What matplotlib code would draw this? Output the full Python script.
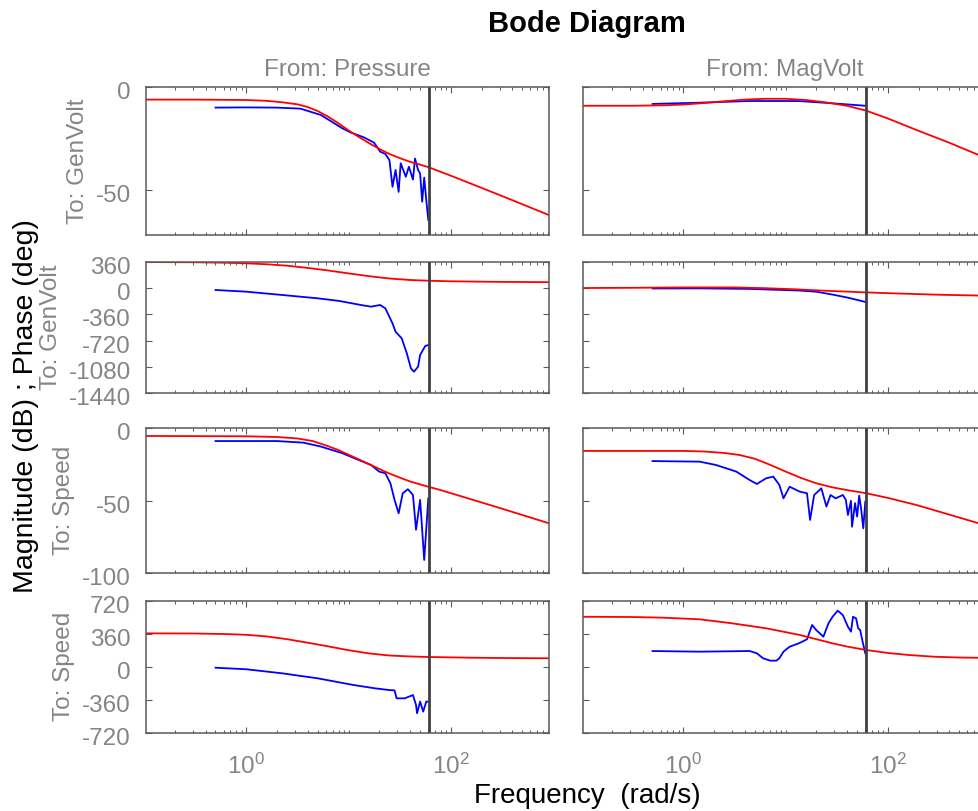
import numpy as np
import matplotlib
matplotlib.use("Agg")
import matplotlib.pyplot as plt
import matplotlib.transforms as mtransforms
from matplotlib.ticker import FixedLocator, LogLocator, NullFormatter, LogFormatterMathtext

plt.rcParams['font.family'] = ['Liberation Sans', 'DejaVu Sans']
plt.rcParams['axes.unicode_minus'] = False
plt.rcParams['mathtext.fontset'] = 'custom'
plt.rcParams['mathtext.rm'] = 'Liberation Sans'

# ---------------- data (log10 of frequency in rad/s, values in dB / deg) ----------------
inputs = ["Pressure", "MagVolt"]
outputs = ["GenVolt", "Speed"]
nyquist_w = 61.0

# Pressure -> GenVolt, magnitude
m_pg_lw = [-0.98, -0.5, 0.0, 0.2, 0.35, 0.5, 0.6, 0.7, 0.8, 0.9, 1.0, 1.1, 1.2, 1.3, 1.4, 1.5, 1.6, 1.7,
           1.78, 1.9, 2.0, 2.3, 2.6, 2.96]
m_pg_db = [-6.0, -6.0, -6.2, -6.6, -7.3, -8.3, -9.6, -11.6, -14.3, -17.5, -21.0, -24.2, -27.2, -30.0,
           -32.5, -34.5, -36.3, -37.7, -38.9, -41.2, -43.1, -49.0, -55.0, -62.3]
d_pg_lw = [-0.30, 0.0, 0.3, 0.53, 0.73, 0.94, 1.02, 1.15, 1.25, 1.31, 1.36, 1.40, 1.43, 1.46, 1.49, 1.51,
           1.56, 1.59, 1.63, 1.65, 1.68, 1.70, 1.72, 1.74, 1.76, 1.78]
d_pg_db = [-9.9, -9.8, -9.9, -10.4, -13.5, -20.0, -22.0, -24.4, -27.0, -31.4, -32.5, -35.5, -48.5, -40.3,
           -51.0, -37.0, -43.6, -38.7, -45.0, -34.7, -40.3, -42.0, -55.8, -44.0, -55.0, -64.7]

# Pressure -> GenVolt, phase
p_pg_lw = [-0.98, -0.5, -0.2, 0.0, 0.2, 0.4, 0.6, 0.8, 1.0, 1.2, 1.4, 1.6, 1.78, 2.0, 2.4, 2.96]
p_pg_deg = [355, 352, 346, 338, 325, 305, 275, 240, 200, 162, 130, 110, 100, 92, 85, 80]
dp_pg_lw = [-0.30, 0.0, 0.35, 0.70, 0.91, 1.12, 1.22, 1.31, 1.36, 1.43, 1.46, 1.52, 1.57, 1.61, 1.64,
            1.68, 1.70, 1.75, 1.78]
dp_pg_deg = [-27, -50, -95, -141, -177, -232, -255, -232, -278, -483, -598, -688, -893, -1098, -1145,
             -1076, -916, -793, -780]

# Pressure -> Speed, magnitude
m_ps_lw = [-0.98, 0.0, 0.3, 0.5, 0.65, 0.8, 0.9, 1.0, 1.1, 1.2, 1.3, 1.4, 1.5, 1.6, 1.7, 1.78, 1.9,
           2.13, 2.48, 2.96]
m_ps_db = [-5.3, -5.5, -6.0, -7.0, -8.8, -12.3, -15.0, -18.2, -21.4, -24.7, -28.0, -31.2, -34.0, -36.6,
           -38.7, -40.3, -42.6, -47.5, -55.0, -65.5]
d_ps_lw = [-0.30, 0.3, 0.56, 0.73, 0.94, 1.08, 1.22, 1.30, 1.36, 1.41, 1.45, 1.49, 1.53, 1.58, 1.63,
           1.66, 1.70, 1.74, 1.78]
d_ps_db = [-8.8, -8.8, -9.9, -12.6, -17.2, -21.3, -25.3, -29.9, -31.0, -38.0, -49.4, -58.6, -44.8, -42.0,
           -46.0, -70.0, -49.4, -90.8, -48.3]

# Pressure -> Speed, phase
p_ps_lw = [-0.98, -0.5, -0.2, 0.0, 0.2, 0.4, 0.6, 0.8, 1.0, 1.2, 1.4, 1.6, 1.78, 2.2, 2.6, 2.96]
p_ps_deg = [364, 362, 356, 348, 330, 300, 262, 222, 180, 145, 122, 112, 106, 98, 94, 92]
dp_ps_lw = [-0.30, 0.0, 0.35, 0.70, 1.05, 1.26, 1.40, 1.45, 1.47, 1.55, 1.63, 1.66, 1.67, 1.70, 1.73,
            1.76, 1.78]
dp_ps_deg = [-11, -28, -72, -127, -200, -236, -255, -258, -345, -345, -309, -418, -508, -381, -490,
             -381, -381]

# MagVolt -> GenVolt, magnitude
m_mg_lw = [-0.99, -0.5, -0.2, 0.0, 0.2, 0.4, 0.6, 0.8, 1.0, 1.2, 1.4, 1.6, 1.79, 2.0, 2.28, 2.6, 2.96]
m_mg_db = [-9.0, -9.0, -8.8, -8.4, -7.7, -6.8, -6.0, -5.6, -5.6, -6.2, -7.4, -9.0, -11.4, -15.2, -20.8,
           -27.0, -34.5]
d_mg_lw = [-0.30, 0.16, 0.64, 1.13, 1.46, 1.78]
d_mg_db = [-8.1, -7.5, -6.7, -6.7, -7.8, -9.0]

# MagVolt -> GenVolt, phase
p_mg_lw = [-0.99, -0.5, 0.0, 0.5, 0.8, 1.1, 1.4, 1.79, 2.1, 2.5, 2.96]
p_mg_deg = [0, 3, 8, 8, -2, -18, -38, -60, -75, -92, -105]
dp_mg_lw = [-0.30, 0.16, 0.65, 1.14, 1.30, 1.46, 1.62, 1.78]
dp_mg_deg = [-6, -5, -12, -35, -50, -90, -135, -190]

# MagVolt -> Speed, magnitude
m_ms_lw = [-0.99, 0.0, 0.2, 0.4, 0.55, 0.7, 0.85, 1.0, 1.15, 1.3, 1.45, 1.6, 1.79, 2.0, 2.28, 2.6, 2.96]
m_ms_db = [-15.6, -15.6, -16.0, -17.0, -18.4, -21.0, -25.2, -29.8, -34.2, -37.9, -40.6, -42.6, -44.8,
           -48.0, -52.9, -59.5, -67.0]
d_ms_lw = [-0.30, 0.16, 0.32, 0.52, 0.65, 0.72, 0.81, 0.88, 0.94, 0.98, 1.04, 1.14, 1.21, 1.24, 1.28,
           1.35, 1.40, 1.44, 1.49, 1.56, 1.59, 1.61, 1.64, 1.65, 1.68, 1.70, 1.72, 1.74, 1.76, 1.78]
d_ms_db = [-22.6, -23.0, -25.3, -29.9, -35.7, -38.4, -34.5, -33.3, -39.1, -48.3, -40.3, -43.7, -44.8,
           -63.2, -46.0, -41.4, -54.0, -46.0, -48.3, -46.0, -49.4, -59.8, -50.0, -67.9, -51.6, -60.9,
           -46.4, -56.0, -69.0, -50.6]

# MagVolt -> Speed, phase
p_ms_lw = [-0.99, -0.5, -0.2, 0.16, 0.48, 0.81, 1.14, 1.46, 1.6, 1.79, 2.0, 2.2, 2.45, 2.7, 2.96]
p_ms_deg = [545, 542, 535, 517, 473, 419, 346, 255, 220, 182, 150, 128, 109, 100, 96]
dp_ms_lw = [-0.30, 0.16, 0.65, 0.72, 0.78, 0.85, 0.91, 0.94, 0.98, 1.04, 1.13, 1.21, 1.26, 1.30, 1.37,
            1.42, 1.46, 1.51, 1.56, 1.61, 1.64, 1.66, 1.69, 1.71, 1.73, 1.75, 1.78]
dp_ms_deg = [171, 164, 171, 146, 92, 66, 66, 92, 164, 218, 255, 299, 455, 400, 327, 473, 545, 611, 564,
             436, 382, 545, 527, 419, 400, 291, 146]

row_ticks = [[-50, 0], [-1440, -1080, -720, -360, 0, 360], [-100, -50, 0], [-720, -360, 0, 360, 720]]
row_ylims = [(-72, 0), (-1440, 360), (-100, 0), (-720, 720)]
xlim_log = (-0.98, 2.96)
x_major = [1, 100]

panels = {
    (0, 0): (m_pg_lw, m_pg_db, d_pg_lw, d_pg_db),
    (1, 0): (p_pg_lw, p_pg_deg, dp_pg_lw, dp_pg_deg),
    (2, 0): (m_ps_lw, m_ps_db, d_ps_lw, d_ps_db),
    (3, 0): (p_ps_lw, p_ps_deg, dp_ps_lw, dp_ps_deg),
    (0, 1): (m_mg_lw, m_mg_db, d_mg_lw, d_mg_db),
    (1, 1): (p_mg_lw, p_mg_deg, dp_mg_lw, dp_mg_deg),
    (2, 1): (m_ms_lw, m_ms_db, d_ms_lw, d_ms_db),
    (3, 1): (p_ms_lw, p_ms_deg, dp_ms_lw, dp_ms_deg),
}

# ---------------- layout ----------------
W, H = 979, 811
fig = plt.figure(figsize=(W / 100, H / 100), dpi=100)
col_x = [(146, 549), (583, 986)]
row_y = [(87.3, 235.0), (261.7, 393.3), (428.3, 573.3), (600.7, 732.7)]

gray = '#858585'
edge = '#5a5a5a'
fs_tick = 17.5
ylab_shift = mtransforms.ScaledTranslation(0, -3.5 / 100, fig.dpi_scale_trans)

for (r, c), (mlw, mv, dlw, dv) in panels.items():
    x0, x1 = col_x[c]
    t, b = row_y[r]
    ax = fig.add_axes([x0 / W, 1 - b / H, (x1 - x0) / W, (b - t) / H])
    ax.set_xscale('log')
    ax.plot(10 ** np.array(dlw), dv, color='blue', lw=1.3)
    ax.plot(10 ** np.array(mlw), mv, color='red', lw=1.3)
    ax.axvline(nyquist_w, color='#404040', lw=2.0)
    ax.set_xlim(10 ** xlim_log[0], 10 ** xlim_log[1])
    ax.set_ylim(*row_ylims[r])
    ax.yaxis.set_major_locator(FixedLocator(row_ticks[r]))
    ax.xaxis.set_major_locator(FixedLocator(x_major))
    ax.xaxis.set_minor_locator(LogLocator(base=10, subs=np.arange(1, 10), numticks=20))
    ax.xaxis.set_minor_formatter(NullFormatter())
    for s in ax.spines.values():
        s.set_color(edge)
        s.set_linewidth(1.1)
    ax.tick_params(which='both', direction='in', top=True, right=True, color=edge,
                   labelcolor=gray, labelsize=fs_tick)
    ax.tick_params(which='major', length=4, width=0.8)
    ax.tick_params(which='minor', length=2.5, width=0.7)
    ax.tick_params(axis='y', pad=11)
    ax.tick_params(axis='x', pad=15)
    if c == 0:
        ax.set_ylabel("To: " + outputs[r // 2], color=gray, fontsize=fs_tick, labelpad=5)
        for lab in ax.get_yticklabels():
            lab.set_transform(lab.get_transform() + ylab_shift)
    else:
        ax.set_yticklabels([])
    if r == 3:
        ax.xaxis.set_major_formatter(LogFormatterMathtext())
    else:
        ax.set_xticklabels([])
    if r == 0:
        ax.set_title("From: " + inputs[c], color=gray, fontsize=fs_tick, pad=8.0)

fig.text(587 / W, 1 - 32.3 / H, "Bode Diagram", ha='center', va='baseline',
         fontsize=21, fontweight='bold', color='black')
fig.text(587 / W, 1 - 803 / H, "Frequency  (rad/s)", ha='center', va='baseline',
         fontsize=20, color='black')
fig.text(26 / W, 1 - 406.5 / H, "Magnitude (dB) ; Phase (deg)", ha='center', va='center',
         rotation=90, fontsize=20.5, color='black')

fig.savefig("out.png", dpi=100)
